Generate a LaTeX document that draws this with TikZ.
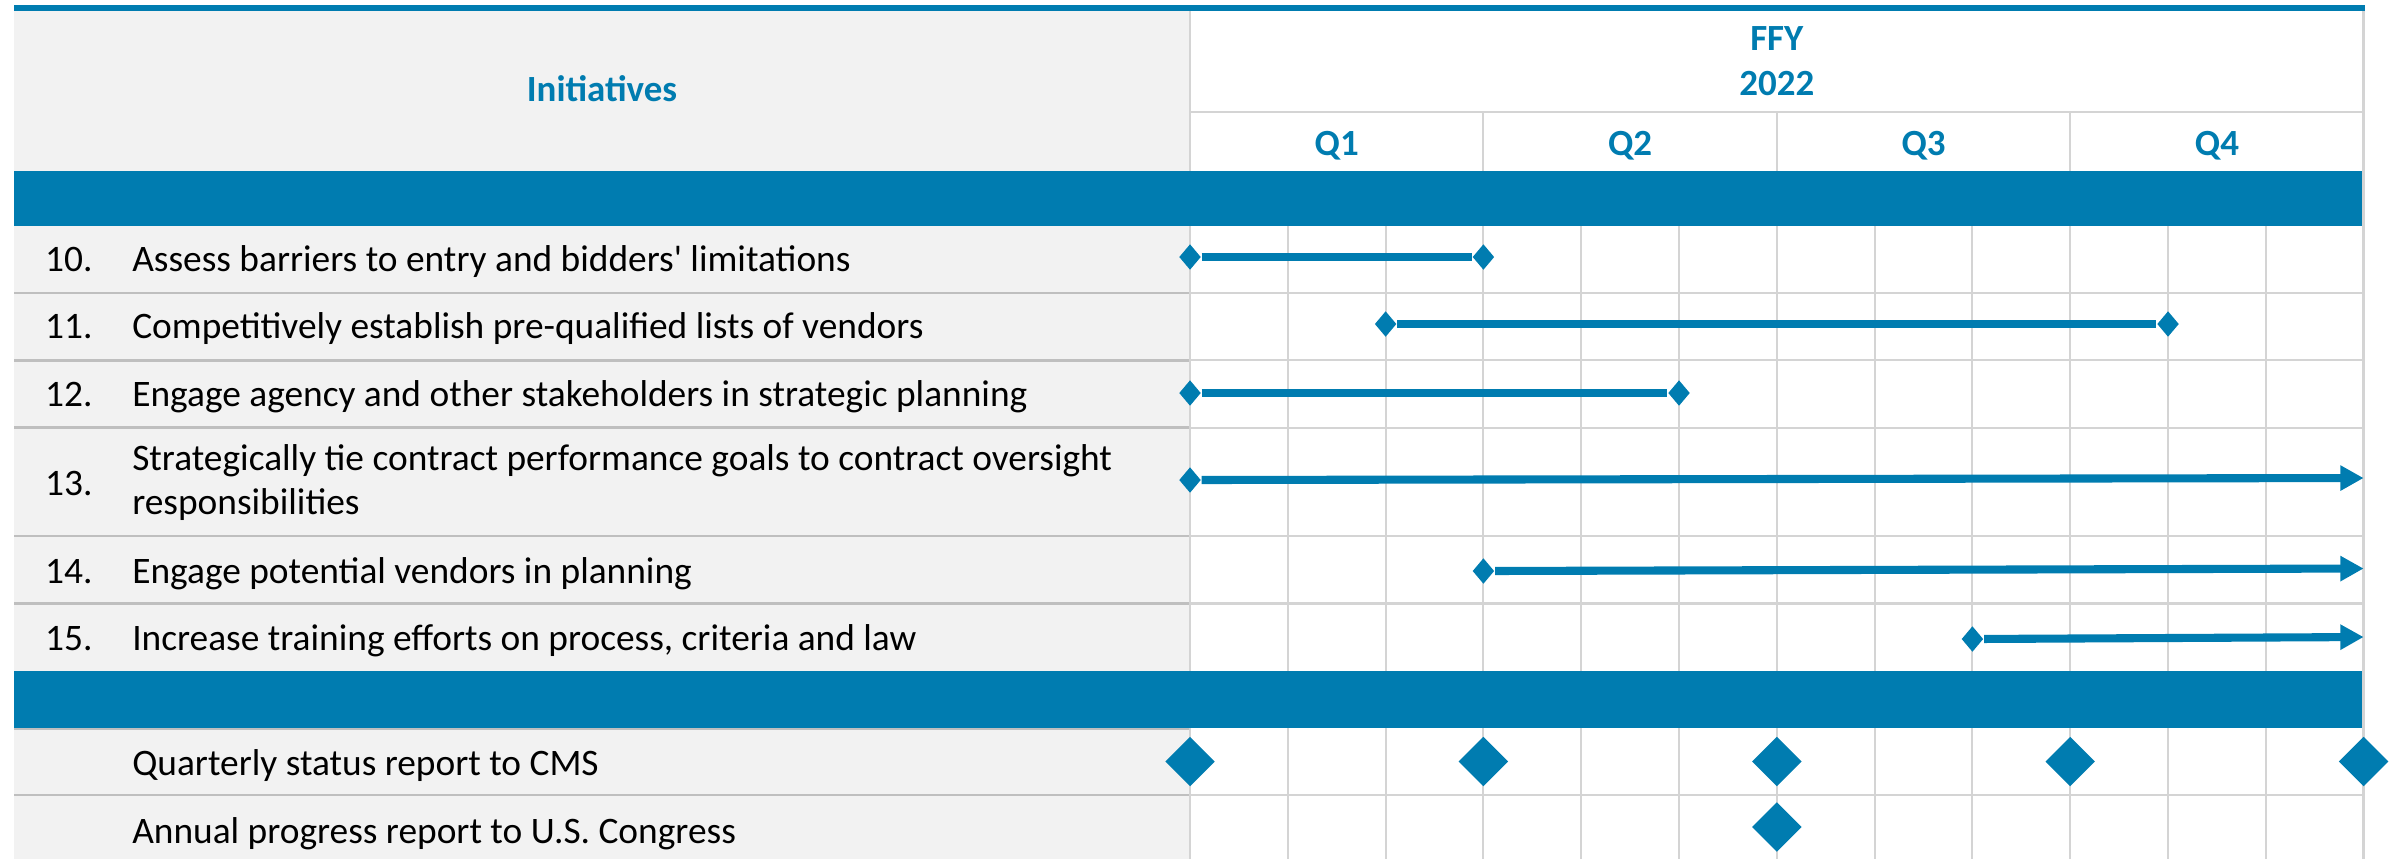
\documentclass[tikz,border=0pt]{standalone}
\usepackage{fontspec}
\setmainfont{Carlito}
\usetikzlibrary{arrows.meta,shapes.geometric}
\definecolor{planblue}{HTML}{007CB0}
\definecolor{panelgrey}{HTML}{F2F2F2}
\definecolor{rulegrey}{HTML}{BFBFBF}
\definecolor{gridgrey}{HTML}{D4D4D4}
\tikzset{
  every node/.style={font=\fontsize{10.63}{12.5}\selectfont,inner sep=0pt},
  headtext/.style={font=\fontsize{10.5}{12.5}\selectfont\bfseries,text=planblue,anchor=base},
  rowtext/.style={anchor=base west},
  rowrule/.style={draw=rulegrey,line width=.7pt},
  gridline/.style={draw=gridgrey,line width=.6pt},
  band/.style={fill=planblue},
  bar/.style={draw=planblue,line width=2.3pt},
  endmark/.style={diamond,fill=planblue,minimum width=.22cm,minimum height=.26cm,inner sep=0pt},
  milestone/.style={diamond,fill=planblue,minimum width=.5cm,minimum height=.5cm,inner sep=0pt},
  ongoing/.style={-{Triangle[length=.233cm,width=.24cm]}}}

\begin{document}
\begin{tikzpicture}[x=.01cm,y=-.01cm]
\path[use as bounding box] (0,0) rectangle (2392,859);
% panels and grid
\fill[panelgrey] (14,11) rectangle (1190,859);
\draw[gridline] (1287.8,225.7)--(1287.8,859) (1385.6,225.7)--(1385.6,859) (1483.4,225.7)--(1483.4,859)
  (1581.2,225.7)--(1581.2,859) (1679,225.7)--(1679,859) (1776.8,225.7)--(1776.8,859)
  (1874.6,225.7)--(1874.6,859) (1972.4,225.7)--(1972.4,859) (2070.2,225.7)--(2070.2,859)
  (2168,225.7)--(2168,859) (2265.8,225.7)--(2265.8,859);
\draw[gridline] (1483.4,112)--(1483.4,171) (1776.8,112)--(1776.8,171) (2070.2,112)--(2070.2,171);
\draw[gridline] (1190,112)--(2363.6,112);
\draw[rowrule] (14,293)--(1190,293) (14,360.3)--(1190,360.3) (14,427.7)--(1190,427.7)
  (14,536)--(1190,536) (14,603.5)--(1190,603.5) (14,728.5)--(1190,728.5) (14,795)--(1190,795);
\draw[gridline] (1190,293)--(2363.6,293) (1190,360.3)--(2363.6,360.3) (1190,427.7)--(2363.6,427.7)
  (1190,536)--(2363.6,536) (1190,603.5)--(2363.6,603.5) (1190,795)--(2363.6,795);
\draw[gridline,line width=.75pt] (1190,11)--(1190,859) (2363.6,11)--(2363.6,859);
\fill[planblue] (14,5) rectangle (2365,11);
\fill[band] (14,171) rectangle (2362,225.7);
\fill[band] (14,671) rectangle (2362,727.5);
% header
\node[headtext] (init) at (602,101.7) {Initiatives};
\node[headtext] (ffy) at (1776.8,50) {FFY};
\node[headtext] (year) at (1776.8,95) {2022};
\node[headtext] (q1) at (1336.7,155) {Q1};
\node[headtext] (q2) at (1630.1,155) {Q2};
\node[headtext] (q3) at (1923.5,155) {Q3};
\node[headtext] (q4) at (2216.9,155) {Q4};
% initiatives
\node[rowtext] (n10) at (44.4,271.7) {10.};
\node[rowtext] (t10) at (131.6,271.7) {Assess barriers to entry and bidders\textquotesingle{} limitations};
\node[rowtext] (n11) at (44.4,338.3) {11.};
\node[rowtext] (t11) at (131.6,338.3) {Competitively establish pre-qualified lists of vendors};
\node[rowtext] (n12) at (44.4,406) {12.};
\node[rowtext] (t12) at (131.6,406) {Engage agency and other stakeholders in strategic planning};
\node[rowtext] (n13) at (44.4,495) {13.};
\node[rowtext] (t13a) at (131.6,470.7) {Strategically tie contract performance goals to contract oversight};
\node[rowtext] (t13b) at (131.6,514) {responsibilities};
\node[rowtext] (n14) at (44.4,583) {14.};
\node[rowtext] (t14) at (131.6,583) {Engage potential vendors in planning};
\node[rowtext] (n15) at (44.4,650) {15.};
\node[rowtext] (t15) at (131.6,650) {Increase training efforts on process, criteria and law};
\node[rowtext] (tq) at (131.6,775) {Quarterly status report to CMS};
\node[rowtext] (ta) at (131.6,843) {Annual progress report to U.S. Congress};
% timeline bars
\node[endmark] (s10) at (1190,257) {};\node[endmark] (e10) at (1483.4,257) {};\draw[bar] (s10)--(e10);
\node[endmark] (s11) at (1385.6,324) {};\node[endmark] (e11) at (2168,324) {};\draw[bar] (s11)--(e11);
\node[endmark] (s12) at (1190,393) {};\node[endmark] (e12) at (1679,393) {};\draw[bar] (s12)--(e12);
\node[endmark] (s13) at (1190,480) {};\coordinate (e13) at (2363.6,478);\draw[bar,ongoing] (s13)--(e13);
\node[endmark] (s14) at (1483.4,571) {};\coordinate (e14) at (2363.6,568.5);\draw[bar,ongoing] (s14)--(e14);
\node[endmark] (s15) at (1972.4,639) {};\coordinate (e15) at (2363.6,637);\draw[bar,ongoing] (s15)--(e15);
% reports
\node[milestone] (mq1) at (1190,761.5) {};
\node[milestone] (mq2) at (1483.4,761.5) {};
\node[milestone] (mq3) at (1776.8,761.5) {};
\node[milestone] (mq4) at (2070.2,761.5) {};
\node[milestone] (mq5) at (2363.6,761.5) {};
\node[milestone] (ma) at (1776.8,827) {};
\end{tikzpicture}
\end{document}
